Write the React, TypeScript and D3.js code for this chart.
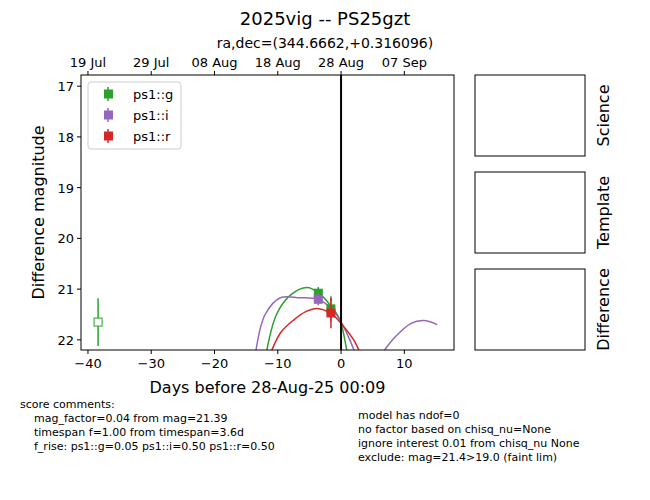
import React from "react";
import * as d3 from "d3";

type Pt = { d: number; m: number; e: number; open?: boolean };

const gPoints: Pt[] = [
  { d: -38.4, m: 21.65, e: 0.47, open: true },
  { d: -3.6, m: 21.08, e: 0.12 },
  { d: -1.6, m: 21.39, e: 0.25 },
];
const iPoints: Pt[] = [{ d: -3.6, m: 21.2, e: 0.12 }];
const rPoints: Pt[] = [{ d: -1.6, m: 21.47, e: 0.3 }];

const gCurve: [number, number][] = [
  [-11.8, 22.25], [-10.2, 21.5], [-8, 21.12], [-5.4, 20.97], [-3.5, 21.08], [-1.5, 21.35], [-0.2, 21.6], [0.9, 22.2], [1.2, 22.4],
];
const iCurve: [number, number][] = [
  [-13.5, 22.25], [-12, 21.5], [-9.6, 21.17], [-6.5, 21.17], [-3.7, 21.2], [-1.8, 21.35], [-0.2, 21.6], [1.2, 21.95], [2.2, 22.25],
];
const iCurve2: [number, number][] = [
  [6.6, 22.25], [8.5, 21.95], [11, 21.68], [13, 21.62], [15.2, 21.7],
];
const rCurve: [number, number][] = [
  [-11.1, 22.25], [-9.5, 21.85], [-7.5, 21.61], [-5.5, 21.44], [-3.8, 21.38], [-1.6, 21.48], [0.5, 21.75], [2, 22.0], [3, 22.25],
];

const xTicks = [-40, -30, -20, -10, 0, 10];
const yTicks = [17, 18, 19, 20, 21, 22];
const topTicks = [
  { d: -40, l: "19 Jul" }, { d: -30, l: "29 Jul" }, { d: -20, l: "08 Aug" },
  { d: -10, l: "18 Aug" }, { d: 0, l: "28 Aug" }, { d: 10, l: "07 Sep" },
];
const legend = [
  { name: "ps1::g", color: "#2ca02c" },
  { name: "ps1::i", color: "#9467bd" },
  { name: "ps1::r", color: "#d62728" },
];
const leftNotes = [
  "mag_factor=0.04 from mag=21.39",
  "timespan f=1.00 from timespan=3.6d",
  "f_rise: ps1::g=0.05 ps1::i=0.50 ps1::r=0.50",
];
const rightNotes = [
  "model has ndof=0",
  "no factor based on chisq_nu=None",
  "ignore interest 0.01 from chisq_nu None",
  "exclude: mag=21.4>19.0 (faint lim)",
];
const panels = ["Science", "Template", "Difference"];

const L = 81, R = 454, T = 75, B = 350;
const x = d3.scaleLinear().domain([-41.1, 17.85]).range([L, R]);
const y = d3.scaleLinear().domain([16.78, 22.2]).range([T, B]);
const line = d3.line<[number, number]>().x((p) => x(p[0])).y((p) => y(p[1])).curve(d3.curveCatmullRom);

const font = "DejaVu Sans, sans-serif";

function Marks({ pts, color }: { pts: Pt[]; color: string }) {
  return (
    <g>
      {pts.map((p, i) => (
        <g key={i}>
          <line x1={x(p.d)} x2={x(p.d)} y1={y(p.m - p.e)} y2={y(p.m + p.e)} stroke={color} strokeWidth={1.5} />
          <rect x={x(p.d) - 4} y={y(p.m) - 4} width={8} height={8}
            fill={p.open ? "white" : color} stroke={color} strokeWidth={1} />
        </g>
      ))}
    </g>
  );
}

export default function App() {
  return (
    <svg width={650} height={500} style={{ position: "absolute", left: 0, top: 0, fontFamily: font }}>
      <rect width={650} height={500} fill="white" />
      <text x={325} y={25} textAnchor="middle" fontSize={18}>2025vig -- PS25gzt</text>
      <text x={325} y={48} textAnchor="middle" fontSize={14}>ra,dec=(344.6662,+0.316096)</text>
      <defs>
        <clipPath id="plot"><rect x={L} y={T} width={R - L} height={B - T} /></clipPath>
      </defs>
      <g clipPath="url(#plot)">
        <path d={line(gCurve) || ""} fill="none" stroke="#2ca02c" strokeWidth={1.5} />
        <path d={line(iCurve) || ""} fill="none" stroke="#9467bd" strokeWidth={1.5} />
        <path d={line(iCurve2) || ""} fill="none" stroke="#9467bd" strokeWidth={1.5} />
        <path d={line(rCurve) || ""} fill="none" stroke="#d62728" strokeWidth={1.5} />
        <line x1={x(0)} x2={x(0)} y1={T} y2={B} stroke="black" strokeWidth={2} />
        <Marks pts={gPoints} color="#2ca02c" />
        <Marks pts={iPoints} color="#9467bd" />
        <Marks pts={rPoints} color="#d62728" />
      </g>
      <rect x={L} y={T} width={R - L} height={B - T} fill="none" stroke="black" strokeWidth={1} />
      {xTicks.map((t) => (
        <g key={t}>
          <line x1={x(t)} x2={x(t)} y1={B} y2={B + 4} stroke="black" />
          <text x={x(t)} y={B + 18} textAnchor="middle" fontSize={13}>{t < 0 ? "\u2212" + -t : t}</text>
        </g>
      ))}
      {topTicks.map((t) => (
        <g key={t.l}>
          <line x1={x(t.d)} x2={x(t.d)} y1={T} y2={T - 4} stroke="black" />
          <text x={x(t.d)} y={T - 8} textAnchor="middle" fontSize={13}>{t.l}</text>
        </g>
      ))}
      {yTicks.map((t) => (
        <g key={t}>
          <line x1={L} x2={L - 4} y1={y(t)} y2={y(t)} stroke="black" />
          <text x={L - 7} y={y(t) + 5} textAnchor="end" fontSize={13}>{t}</text>
        </g>
      ))}
      <text x={(L + R) / 2} y={393} textAnchor="middle" fontSize={16}>Days before 28-Aug-25 00:09</text>
      <text transform={`translate(44,${(T + B) / 2}) rotate(-90)`} textAnchor="middle" fontSize={16}>Difference magnitude</text>
      <rect x={88} y={82} width={93} height={67} fill="white" stroke="#ccc" rx={3} />
      {legend.map((s, i) => (
        <g key={s.name}>
          <line x1={108} x2={108} y1={87 + i * 21} y2={101 + i * 21} stroke={s.color} strokeWidth={1.5} />
          <rect x={104} y={89.5 + i * 21} width={9} height={9} fill={s.color} />
          <text x={133} y={99 + i * 21} fontSize={13}>{s.name}</text>
        </g>
      ))}
      {panels.map((p, i) => (
        <g key={p}>
          <rect x={475} y={75 + i * 97} width={110} height={81} fill="none" stroke="black" />
          <text transform={`translate(609,${115.5 + i * 97}) rotate(-90)`} textAnchor="middle" fontSize={16}>{p}</text>
        </g>
      ))}
      <text x={20} y={408} fontSize={11}>score comments:</text>
      {leftNotes.map((n, i) => (
        <text key={n} x={34} y={422 + i * 14} fontSize={11}>{n}</text>
      ))}
      {rightNotes.map((n, i) => (
        <text key={n} x={358} y={419 + i * 14} fontSize={11}>{n}</text>
      ))}
    </svg>
  );
}
